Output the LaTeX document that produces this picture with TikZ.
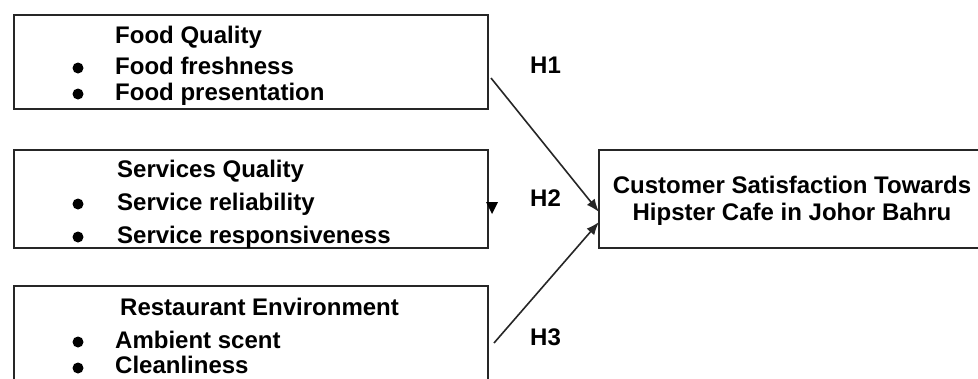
\documentclass[tikz,border=0pt]{standalone}
\usepackage{fontspec}
\setmainfont{Liberation Sans}
\usetikzlibrary{arrows.meta}
\begin{document}
\begin{tikzpicture}[x=1pt,y=-1pt,
  box/.style={draw=black!85, line width=1.5pt, inner sep=0pt, anchor=north west},
  txt/.style={anchor=base west, inner sep=0pt, font=\fontsize{24}{28}\selectfont\bfseries, text=black},
  ctxt/.style={align=center, inner sep=0pt, font=\fontsize{24}{27}\selectfont\bfseries, text=black},
  blt/.style={fill=black},
  conn/.style={draw=black!85, line width=1.6pt, -{Latex[length=13pt,width=10pt]}}]
\clip (0,0) rectangle (978,378);
\fill[white] (0,0) rectangle (978,378);
% boxes
\node[box, minimum width=474pt, minimum height=94pt] (fq) at (13,14) {};
\node[box, minimum width=474pt, minimum height=98pt] (sq) at (13,149) {};
\node[box, minimum width=474pt, minimum height=120pt] (re) at (13,285) {};
\node[box, minimum width=420pt, minimum height=98pt] (cs) at (598,149) {};
% box 1 text
\node[txt] (fqt) at (115,43) {Food Quality};
\node[txt] (fq1) at (115,74) {Food freshness};
\node[txt] (fq2) at (115,100) {Food presentation};
\fill[blt] (78,68) circle (5.5pt);
\fill[blt] (78,94) circle (5.5pt);
% box 2 text
\node[txt] (sqt) at (117,177) {Services Quality};
\node[txt] (sq1) at (117,210) {Service reliability};
\node[txt] (sq2) at (117,243) {Service responsiveness};
\fill[blt] (78,204) circle (5.5pt);
\fill[blt] (78,237) circle (5.5pt);
% box 3 text
\node[txt] (ret) at (120,315) {Restaurant Environment};
\node[txt] (re1) at (115,348) {Ambient scent};
\node[txt] (re2) at (115,373) {Cleanliness};
\fill[blt] (78,342) circle (5.5pt);
\fill[blt] (78,368) circle (5.5pt);
% dependent
\node[ctxt] (cst) at (792,201) {Customer Satisfaction Towards\\Hipster Cafe in Johor Bahru};
% labels
\node[txt] (h1) at (530,73) {H1};
\node[txt] (h2) at (530,206) {H2};
\node[txt] (h3) at (530,345) {H3};
% connectors
\coordinate (a1) at (491,78);
\coordinate (a3) at (494,343);
\coordinate (e1) at (599,212);
\coordinate (e3) at (599,222);
\draw[conn] (a1) -- (e1);
\draw[conn] (a3) -- (e3);
% stray arrowhead
\fill[black] (486,202) -- (498,202) -- (492,214) -- cycle;
\end{tikzpicture}
\end{document}
